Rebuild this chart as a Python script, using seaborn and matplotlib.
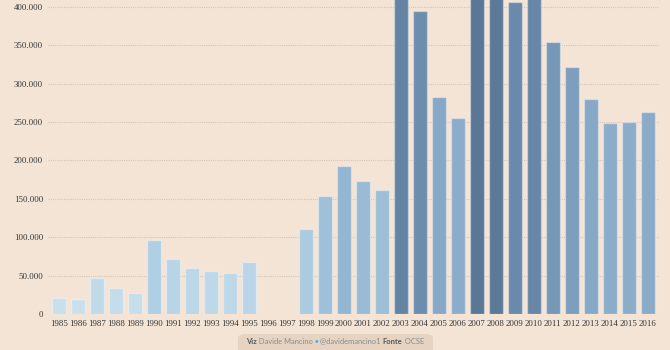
import numpy as np
import pandas as pd
import seaborn as sns
import matplotlib.pyplot as plt
from matplotlib.colors import LinearSegmentedColormap
from matplotlib.patches import FancyBboxPatch

# values (1996-1997 missing, a few bars clipped at the top)
years = [str(y) for y in range(1985, 2017)]
values = [21000, 19500, 46500, 33500, 28000, 97000, 71500, 59500, 56000, 53500,
          68000, np.nan, np.nan, 111000, 154000, 193000, 173500, 162000, 425000, 395000,
          283000, 255000, 470000, 460000, 407000, 415000, 354500, 321500, 280000, 249000,
          250500, 263000]

ytick_vals = [0, 50000, 100000, 150000, 200000, 250000, 300000, 350000, 400000]

bg = '#f4e4d6'
df = pd.DataFrame({'year': years, 'value': values})

# colour of each bar follows its value (light -> dark blue)
cmap = LinearSegmentedColormap.from_list('blu', [(0, '#cfe4ee'), (0.2, '#b0cfe4'), (0.42, '#92b5d1'),
                                                 (0.6, '#87a8c6'), (0.86, '#6a8bab'), (1, '#5a7795')])
vmax = np.nanmax(values)
palette = {y: (cmap(v / vmax) if not np.isnan(v) else bg) for y, v in zip(years, values)}

sns.set_style('white')
plt.rcParams['font.family'] = ['Liberation Serif', 'DejaVu Serif']

fig = plt.figure(figsize=(6.7, 3.5), dpi=100, facecolor=bg)
ax = fig.add_axes([48 / 670, 1 - 314 / 350, 611 / 670, 314 / 350])
ax.set_facecolor(bg)

# gridlines behind bars
for t in ytick_vals[1:]:
    ax.axhline(t, color='#d6c5b5', lw=0.8, ls=(0, (1, 1)), zorder=0)

sns.barplot(data=df, x='year', y='value', hue='year', palette=palette, order=years,
            legend=False, width=0.74, saturation=1, edgecolor=(1, 1, 1, 0.35), linewidth=1,
            ax=ax, zorder=2)

ax.set_ylim(0, 409000)
ax.set_xlim(-0.6, len(years) - 0.4)
ax.set_yticks(ytick_vals)
ax.set_yticklabels([f'{v:,}'.replace(',', '.') for v in ytick_vals])
ax.tick_params(axis='both', length=0, labelsize=6.3, colors='#333333')
ax.tick_params(axis='x', pad=4)
ax.set_xlabel('')
ax.set_ylabel('')
for s in ax.spines.values():
    s.set_visible(False)

# footer credit box
box = FancyBboxPatch((238 / 670, -0.02), 195 / 670, 23 / 350,
                     boxstyle='round,pad=0,rounding_size=0.012',
                     transform=fig.transFigure, fc='#e6d3c2', ec='none', zorder=1)
fig.add_artist(box)
sans = ['Lato', 'DejaVu Sans']
parts = [('Viz', 'bold', '#555555', 5.4), (' Davide Mancino ', 'normal', '#8a8a8a', 5.4),
         ('\u25CF', 'normal', '#55acee', 4.5), (' @davidemancino1 ', 'normal', '#8a8a8a', 5.4),
         ('Fonte', 'bold', '#555555', 5.4), (' OCSE', 'normal', '#8a8a8a', 5.4)]
fig.canvas.draw()
renderer = fig.canvas.get_renderer()
texts = [fig.text(0, 1 - 341 / 350, txt, fontsize=fs, fontweight=w, color=c, family=sans,
                  va='center', ha='left', zorder=2) for txt, w, c, fs in parts]
widths = [t.get_window_extent(renderer).width for t in texts]
x = (335 - sum(widths) / 2)
for t, wd in zip(texts, widths):
    t.set_x(x / 670)
    x += wd

fig.savefig('out.png', dpi=100, facecolor=bg)
